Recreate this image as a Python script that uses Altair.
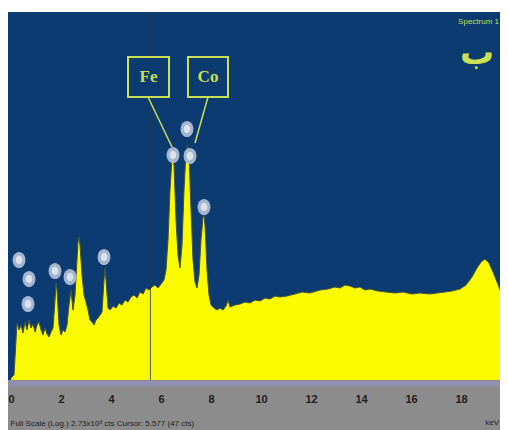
import altair as alt
import pandas as pd

# ---- spectrum (energy in keV, counts in arbitrary units) ----
energy_kev = [
    0.00, 0.12, 0.20, 0.24, 0.32, 0.40, 0.48, 0.56, 0.64, 0.72, 0.80, 0.88, 0.96,
    1.04, 1.12, 1.20, 1.28, 1.36, 1.44, 1.52, 1.60, 1.68, 1.76, 1.80, 1.84, 1.92,
    2.00, 2.08, 2.16, 2.24, 2.32, 2.40, 2.48, 2.56, 2.64, 2.68, 2.72, 2.76, 2.84,
    2.92, 3.00, 3.08, 3.16, 3.24, 3.32, 3.40, 3.48, 3.56, 3.64, 3.72, 3.76, 3.80,
    3.88, 3.96, 4.08, 4.20, 4.32, 4.44, 4.56, 4.68, 4.80, 4.92, 5.04, 5.16, 5.28,
    5.40, 5.52, 5.64, 5.76, 5.88, 6.00, 6.12, 6.20, 6.28, 6.36, 6.44, 6.48, 6.52,
    6.60, 6.68, 6.76, 6.84, 6.92, 7.00, 7.06, 7.12, 7.20, 7.28, 7.36, 7.44, 7.52,
    7.60, 7.68, 7.72, 7.76, 7.84, 7.92, 8.00, 8.12, 8.24, 8.36, 8.48, 8.60, 8.68,
    8.76, 8.96, 9.16, 9.36, 9.56, 9.76, 9.96, 10.16, 10.36, 10.56, 10.76, 11.04,
    11.36, 11.64, 11.96, 12.36, 12.68, 12.96, 13.16, 13.36, 13.56, 13.76, 13.96,
    14.16, 14.36, 14.68, 15.00, 15.36, 15.68, 16.04, 16.36, 16.76, 17.04, 17.36,
    17.64, 17.96, 18.20, 18.44, 18.64, 18.80, 18.96, 19.12, 19.28, 19.44, 19.60,
    19.76, 19.92,
]
counts = [
    2, 5, 40, 57, 50, 55, 47, 58, 50, 60, 52, 56, 48,
    55, 58, 50, 45, 52, 46, 43, 48, 52, 80, 97, 90, 55,
    45, 50, 48, 55, 75, 90, 70, 85, 120, 138, 143, 135, 105,
    85, 78, 70, 60, 58, 55, 60, 62, 65, 68, 100, 112, 100,
    72, 70, 74, 72, 77, 75, 80, 78, 83, 85, 82, 88, 86,
    92, 90, 93, 95, 92, 96, 100, 110, 140, 190, 222, 225, 215,
    160, 125, 112, 135, 190, 228, 235, 225, 170, 120, 98, 92, 105,
    140, 163, 165, 155, 110, 85, 75, 72, 70, 72, 70, 74, 80,
    73, 75, 76, 78, 77, 80, 79, 82, 81, 84, 83, 84,
    86, 88, 87, 90, 91, 93, 92, 95, 94, 92, 93,
    90, 91, 89, 88, 87, 88, 86, 87, 86, 87,
    88, 89, 91, 95, 103, 112, 118, 121, 117, 108, 98,
    88, 84, 82,
]

# identified-peak markers
marker_kev = [0.32, 0.72, 0.68, 1.76, 2.36, 3.72, 6.48, 7.04, 7.16, 7.72]
marker_counts = [120, 101, 76, 109, 103, 123, 225, 251, 224, 173]

# element labels
label_names = ["Fe", "Co"]
label_kev = [5.50, 7.88]
box_kev_lo = [4.68, 7.08]
box_kev_hi = [6.32, 8.68]
box_cnt_lo = [283, 283]
box_cnt_hi = [323, 323]
leader_kev_start = [5.48, 7.88]
leader_cnt_start = [283, 283]
leader_kev_end = [6.44, 7.36]
leader_cnt_end = [233, 237]

tick_values = [0, 2, 4, 6, 8, 10, 12, 14, 16, 18]
cursor_kev = [5.577]
footer_text = "Full Scale (Log.) 2.73x10\u00b3 cts  Cursor: 5.577  (47 cts)"

BLUE = "#0b3b70"
YELLOW = "#fafa00"
GREEN = "#cadf52"
GRAY = "#8c8c8c"
W, H = 492, 368

spec = pd.DataFrame({"keV": energy_kev, "cts": counts})
marks = pd.DataFrame({"keV": marker_kev, "cts": marker_counts})
labels = pd.DataFrame({
    "name": label_names, "kx": label_kev,
    "x1": box_kev_lo, "x2": box_kev_hi, "y1": box_cnt_lo, "y2": box_cnt_hi,
    "lx1": leader_kev_start, "ly1": leader_cnt_start,
    "lx2": leader_kev_end, "ly2": leader_cnt_end,
})
labels["ky"] = [(a + b) / 2 for a, b in zip(box_cnt_lo, box_cnt_hi)]
cursor = pd.DataFrame({"keV": cursor_kev})

xscale = alt.Scale(domain=[-0.12, 19.56], nice=False, zero=False)
yscale = alt.Scale(domain=[0, 368], nice=False, zero=True)

xaxis = alt.Axis(
    values=tick_values, ticks=False, grid=False, offset=3,
    domainColor="#9090b4", domainWidth=5, zindex=1,
    labelFont="Liberation Sans Narrow, Liberation Sans", labelFontSize=11,
    labelFontWeight="bold", labelColor="#1e1e1e", labelPadding=10,
    title=footer_text, titleFont="Liberation Sans Narrow, Liberation Sans",
    titleFontSize=8, titleFontWeight="normal", titleColor="#1e1e1e",
    titleAnchor="start", titleAlign="left", titleX=2, titleY=36,
)

gray_strip = alt.Chart(pd.DataFrame({"a": [0]})).mark_rect(color=GRAY).encode(
    x=alt.value(0), x2=alt.value(W), y=alt.value(H), y2=alt.value(H + 60)
)

area = alt.Chart(spec).mark_area(color=YELLOW, clip=True, opacity=1).encode(
    x=alt.X("keV:Q", scale=xscale, axis=xaxis),
    y=alt.Y("cts:Q", scale=yscale, axis=None),
)
edge = alt.Chart(spec).mark_line(color="#46523a", strokeWidth=1, clip=True).encode(
    x=alt.X("keV:Q", scale=xscale), y=alt.Y("cts:Q", scale=yscale)
)
cur = alt.Chart(cursor).mark_rule(color="#263a55", strokeWidth=1, opacity=0.8).encode(
    x=alt.X("keV:Q", scale=xscale)
)

ellipse = "M0,-1 A0.8,1 0 1,1 0,1 A0.8,1 0 1,1 0,-1 Z"
outer = alt.Chart(marks).mark_point(
    shape=ellipse, filled=True, color="#aebad4", opacity=0.95, size=260
).encode(x=alt.X("keV:Q", scale=xscale), y=alt.Y("cts:Q", scale=yscale))
inner = alt.Chart(marks).mark_point(
    shape=ellipse, filled=True, color="#e2e7f0", opacity=0.9, size=70
).encode(x=alt.X("keV:Q", scale=xscale), y=alt.Y("cts:Q", scale=yscale))

boxes = alt.Chart(labels).mark_rect(
    fill=BLUE, stroke=GREEN, strokeWidth=2
).encode(
    x=alt.X("x1:Q", scale=xscale), x2="x2:Q",
    y=alt.Y("y1:Q", scale=yscale), y2="y2:Q",
)
leaders = alt.Chart(labels).mark_rule(color=GREEN, strokeWidth=1.5).encode(
    x=alt.X("lx1:Q", scale=xscale), x2="lx2:Q",
    y=alt.Y("ly1:Q", scale=yscale), y2="ly2:Q",
)
names = alt.Chart(labels).mark_text(
    font="Liberation Serif", fontWeight="bold", fontSize=17, color=GREEN,
    align="center", baseline="middle"
).encode(
    x=alt.X("kx:Q", scale=xscale), y=alt.Y("ky:Q", scale=yscale), text="name:N"
)

spectrum_title = alt.Chart(pd.DataFrame({"t": ["Spectrum 1"]})).mark_text(
    font="Liberation Sans Narrow, Liberation Sans", fontSize=8, color=GREEN,
    align="right", baseline="middle"
).encode(x=alt.value(W - 1), y=alt.value(10), text="t:N")
panel_letter = alt.Chart(pd.DataFrame({"t": ["\u0628"]})).mark_text(
    font="DejaVu Sans", fontWeight="bold", fontSize=34, color=GREEN,
    align="center", baseline="middle"
).encode(x=alt.value(469), y=alt.value(42), text="t:N")
kev_unit = alt.Chart(pd.DataFrame({"t": ["keV"]})).mark_text(
    font="Liberation Sans Narrow, Liberation Sans", fontSize=8, color="#1e1e1e",
    align="right", baseline="middle"
).encode(x=alt.value(W - 1), y=alt.value(H + 43), text="t:N")

chart = alt.layer(
    gray_strip, area, edge, cur, leaders, boxes, names, outer, inner,
    spectrum_title, panel_letter, kev_unit,
).properties(
    width=W, height=H,
    padding={"top": 4, "left": 0, "right": 0, "bottom": 50},
    autosize=alt.AutoSizeParams(type="none"),
    background="white",
).configure_view(fill=BLUE, stroke=None)

chart.save("out.html", embed_options={"renderer": "svg", "actions": False})
